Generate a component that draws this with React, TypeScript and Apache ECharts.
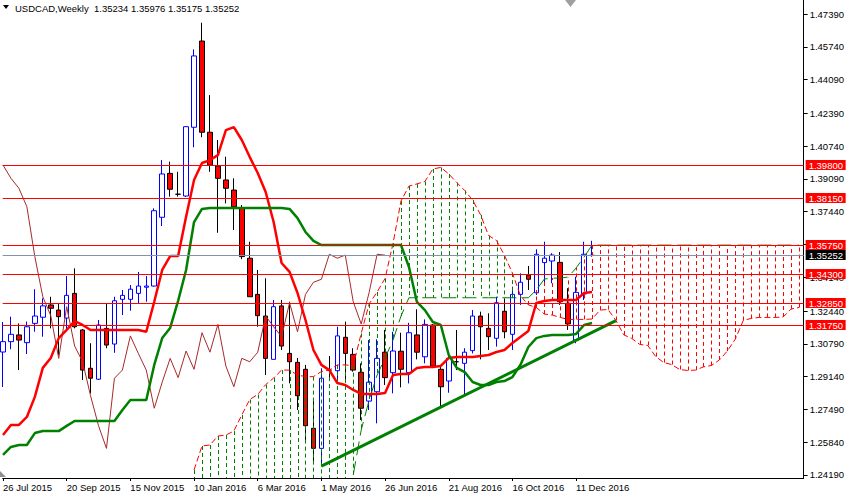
import React, { useEffect, useRef } from 'react';
import * as echarts from 'echarts';

const FONT = "'Liberation Sans', Arial, sans-serif";
const RED = '#FF0000';
const GREEN = '#008000';
const BLUE = '#0000FF';

const titleText = 'USDCAD,Weekly  1.35234 1.35976 1.35175 1.35252';

// weekly candles, index 0 = week of 26 Jul 2015
const opens = [1.3038,1.3090,1.3124,1.3085,1.3182,1.3213,1.3275,1.3249,1.3209,1.3333,
 1.3149,1.2956,1.2901,1.3157,1.3078,1.3303,1.3303,1.3333,1.3364,1.3370,
 1.3716,1.3937,1.3832,1.3823,1.4169,1.4603,1.4144,1.3974,1.3904,1.3853,
 1.3761,1.3510,1.3328,1.3219,1.3001,1.3270,1.3031,1.2986,1.2951,1.2654,
 1.2553,1.2947,1.2944,1.3112,1.3026,1.2936,1.2791,1.2838,1.3037,1.2934,
 1.3042,1.2934,1.3124,1.3014,1.3174,1.2951,1.2892,1.2989,1.2981,1.3045,
 1.3219,1.3157,1.3107,1.3243,1.3127,1.3328,1.3424,1.3336,1.3488,1.3496,
 1.3489,1.3283,1.3098,1.3330,1.35234];
const highs = [1.3189,1.3216,1.3182,1.3191,1.3354,1.3308,1.3316,1.3280,1.3420,1.3459,
 1.3154,1.3082,1.3199,1.3283,1.3316,1.3350,1.3375,1.3441,1.3420,1.3761,
 1.4004,1.3996,1.3945,1.4172,1.4561,1.4695,1.4331,1.4105,1.4021,1.3912,
 1.3778,1.3593,1.3451,1.3409,1.3300,1.3300,1.3291,1.3008,1.2973,1.2800,
 1.2956,1.3018,1.3165,1.3191,1.3057,1.2981,1.3098,1.3102,1.3149,1.3140,
 1.3135,1.3185,1.3253,1.3202,1.3179,1.2973,1.3031,1.3149,1.3057,1.3249,
 1.3241,1.3233,1.3316,1.3308,1.3367,1.3434,1.3471,1.3555,1.3593,1.3535,
 1.3541,1.3359,1.3417,1.3593,1.35976];
const lows = [1.2862,1.3052,1.2947,1.3028,1.3140,1.3115,1.3157,1.3023,1.3149,1.3157,
 1.2897,1.2830,1.2897,1.3057,1.3034,1.3224,1.3246,1.3283,1.3291,1.3367,
 1.3672,1.3820,1.3820,1.3818,1.4068,1.4119,1.3945,1.3638,1.3786,1.3652,
 1.3505,1.3316,1.3165,1.2922,1.3001,1.3048,1.2880,1.2746,1.2595,1.2486,
 1.2464,1.2897,1.2897,1.2897,1.2939,1.2696,1.2746,1.2679,1.2872,1.2830,
 1.2860,1.2880,1.3001,1.2981,1.2962,1.2763,1.2833,1.2947,1.2822,1.3031,
 1.3001,1.3048,1.3065,1.3107,1.3048,1.3275,1.3350,1.3325,1.3384,1.3384,
 1.3275,1.3149,1.3082,1.3300,1.35175];
const closes = [1.3090,1.3127,1.3098,1.3165,1.3219,1.3270,1.3258,1.3216,1.3323,1.3165,
 1.2947,1.2906,1.3174,1.3073,1.3296,1.3323,1.3354,1.3370,1.3370,1.3749,
 1.3934,1.3857,1.3832,1.4172,1.4528,1.4144,1.3979,1.3912,1.3862,1.3769,
 1.3518,1.3316,1.3221,1.3006,1.3266,1.3068,1.2989,1.2818,1.2667,1.2553,
 1.2906,1.2947,1.3119,1.3031,1.2947,1.2755,1.2886,1.3006,1.2909,1.3043,
 1.2951,1.3135,1.3037,1.3177,1.2967,1.2863,1.3006,1.2989,1.3037,1.3219,
 1.3165,1.3115,1.3286,1.3140,1.3328,1.3389,1.3404,1.3530,1.3510,1.3526,
 1.3291,1.3179,1.3338,1.3530,1.35252];

// Ichimoku
const tenkan = [1.2620,1.2671,1.2671,1.2711,1.2812,1.2958,1.3008,1.3108,1.3149,1.3194,
 1.3174,1.3149,1.3149,1.3149,1.3149,1.3149,1.3149,1.3149,1.3140,1.3291,
 1.3451,1.3521,1.3521,1.3719,1.3904,1.3989,1.4004,1.4029,1.4155,1.4170,
 1.4105,1.4019,1.3939,1.3843,1.3692,1.3486,1.3441,1.3335,1.3199,1.3048,
 1.2973,1.2947,1.2882,1.2872,1.2847,1.2827,1.2827,1.2827,1.2832,1.2922,
 1.2927,1.2927,1.2958,1.2963,1.2963,1.2968,1.3008,1.3013,1.3013,1.3013,
 1.3018,1.3023,1.3038,1.3048,1.3083,1.3114,1.3144,1.3285,1.3295,1.3300,
 1.3300,1.3300,1.3300,1.3335,1.3340];
const kijun = [1.2520,1.2560,1.2570,1.2570,1.2630,1.2640,1.2640,1.2640,1.2666,1.2691,
 1.2691,1.2691,1.2691,1.2691,1.2691,1.2746,1.2796,1.2796,1.2796,1.2973,
 1.3108,1.3159,1.3295,1.3451,1.3692,1.3758,1.3763,1.3763,1.3763,1.3763,
 1.3763,1.3763,1.3763,1.3763,1.3763,1.3763,1.3758,1.3712,1.3642,1.3597,
 1.3576,1.3576,1.3576,1.3576,1.3576,1.3576,1.3576,1.3576,1.3576,1.3576,
 1.3576,1.3466,1.3290,1.3249,1.3189,1.3174,1.3023,1.2958,1.2937,1.2887,
 1.2872,1.2872,1.2887,1.2892,1.2912,1.2973,1.3063,1.3108,1.3119,1.3124,
 1.3124,1.3124,1.3129,1.3174,1.3184];
const chikouShift = 26;
const spanAStart = 24;
const spanA = [1.2444,1.2565,1.2570,1.2615,1.2620,1.2640,1.2721,1.2799,1.2824,1.2874,1.2907,
 1.2947,1.2947,1.2922,1.2914,1.2914,1.2940,1.2947,1.2973,1.2973,1.2969,
 1.3132,1.3280,1.3340,1.3408,1.3585,1.3798,1.3873,1.3884,1.3896,1.3959,
 1.3967,1.3934,1.3891,1.3851,1.3803,1.3728,1.3624,1.3599,1.3524,1.3435,
 1.3322,1.3275,1.3262,1.3229,1.3224,1.3212,1.3202,1.3202,1.3202,1.3204,
 1.3249,1.3252,1.3197,1.3124,1.3106,1.3076,1.3071,1.3015,1.2985,1.2975,
 1.2950,1.2945,1.2947,1.2963,1.2970,1.2998,1.3043,1.3103,1.3197,1.3207,
 1.3212,1.3212,1.3212,1.3214,1.3254,1.3262];
const spanBStart = 44;
const spanB = [1.2419,1.2645,1.2796,1.2922,1.3008,1.3098,1.3219,
 1.3311,1.3311,1.3311,1.3311,1.3311,1.3311,1.3311,1.3311,1.3311,1.3311,1.3311,1.3311,1.3311,1.3311,1.3311,1.3311,
 1.3350,1.3405,1.3410,1.3410,1.3415,1.3461,1.3516,1.3576,
 1.3576,1.3576,1.3576,1.3576,1.3576,1.3576,1.3576,1.3576,1.3576,1.3576,1.3576,1.3576,1.3576,
 1.3576,1.3576,1.3576,1.3576,1.3576,1.3576,1.3576,1.3576,1.3576,1.3576,1.3576,1.3576,1.3576];

const trendLine = [[40, 1.2464], [77, 1.3196]];
const levels = [1.398, 1.3815, 1.3575, 1.343, 1.3285, 1.3175, 1.35252];
const levelLabels = ['1.39800', '1.38150', '1.35750', '1.34300', '1.32850', '1.31750', '1.35252'];
const levelLineColors = [RED, RED, RED, RED, RED, RED, '#8592A6'];
const levelBoxColors = [RED, RED, RED, RED, RED, RED, '#000000'];

const yTicks = [1.4739, 1.4574, 1.4409, 1.4239, 1.4074, 1.3909, 1.3744, 1.3579, 1.3414, 1.3244, 1.3079, 1.2914, 1.2749, 1.2584, 1.2419];
const yTickLabels = ['1.47390','1.45740','1.44090','1.42390','1.40740','1.39090','1.37440','1.35790','1.34140','1.32440','1.30790','1.29140','1.27490','1.25840','1.24190'];
const dateTickIdx = [0, 8, 16, 24, 32, 40, 48, 56, 64, 72];
const dateLabels = ['26 Jul 2015','20 Sep 2015','15 Nov 2015','10 Jan 2016','6 Mar 2016','1 May 2016','26 Jun 2016','21 Aug 2016','16 Oct 2016','11 Dec 2016'];

export default function App() {
  const ref = useRef<HTMLDivElement>(null);
  useEffect(() => {
    document.body.style.margin = '0';
    const chart = echarts.init(ref.current!, null, { renderer: 'svg' });
    const candleData = opens.map((o, i) => [i, o, closes[i], lows[i], highs[i]]);
    const tenkanData = tenkan.map((v, i) => [i, v]);
    const kijunData = kijun.map((v, i) => [i, v]);
    const chikouData = closes.slice(chikouShift).map((v, k) => [k, v]);
    const spanAData = spanA.map((v, k) => [spanAStart + k, v]);
    const spanBData = spanB.map((v, k) => [spanBStart + k, v]);
    const levelData = levels.map((v, k) => [k, v]);
    const spanBAt = (i: number) => {
      const k = i - spanBStart;
      return k >= 0 && k < spanB.length ? spanB[k] : null;
    };
    const axisText = { fontSize: 9.5, fontFamily: FONT, color: '#000' };
    chart.setOption({
      animation: false,
      backgroundColor: '#fff',
      grid: { left: 0, top: 0, right: 42, bottom: 17 },
      xAxis: {
        type: 'value', min: -0.04, max: 100.585,
        axisLine: { show: true, onZero: false, lineStyle: { color: '#000', width: 1 } },
        axisTick: { show: true, length: 3, customValues: dateTickIdx, lineStyle: { color: '#000' } },
        axisLabel: {
          ...axisText, customValues: dateTickIdx, align: 'left', margin: 4,
          formatter: (v: number) => dateLabels[dateTickIdx.indexOf(Math.round(v))] ?? '',
        },
        splitLine: { show: false },
      },
      yAxis: {
        type: 'value', position: 'right', min: 1.24039, max: 1.48095, scale: true,
        axisLine: { show: true, onZero: false, lineStyle: { color: '#000', width: 1 } },
        axisTick: { show: true, length: 4, customValues: yTicks, lineStyle: { color: '#000' } },
        axisLabel: {
          ...axisText, customValues: yTicks, margin: 6,
          formatter: (v: number) => {
            let best = 0;
            yTicks.forEach((t, k) => { if (Math.abs(t - v) < Math.abs(yTicks[best] - v)) best = k; });
            return yTickLabels[best];
          },
        },
        splitLine: { show: false },
      },
      graphic: [
        { type: 'polygon', shape: { points: [[3, 5], [9, 5], [6, 9]] }, style: { fill: '#000' } },
        { type: 'text', x: 15, y: 8, style: { text: titleText, fontSize: 9.5, fontFamily: FONT, fill: '#000', verticalAlign: 'middle' } },
        { type: 'polygon', shape: { points: [[565, 0], [576, 0], [570.5, 7]] }, style: { fill: '#A0A0A0' } },
        { type: 'polygon', shape: { points: [[0, 471], [0, 477], [6, 477]] }, style: { fill: '#909090' } },
      ],
      series: [
        {
          type: 'candlestick', z: 1, data: candleData, encode: { x: 0, y: [1, 2, 3, 4] },
          barWidth: 5,
          itemStyle: { color: '#FFFFFF', color0: RED, borderColor: BLUE, borderColor0: '#000', borderColorDoji: '#000', borderWidth: 1 },
        },
        {
          type: 'custom', z: 2, data: spanAData, encode: { x: 0, y: 1 },
          renderItem: (params: any, api: any) => {
            const i = api.value(0);
            const a = api.value(1);
            const b = spanBAt(i);
            const cs = params.coordSys;
            const pa = api.coord([i, a]);
            const yb = b == null ? cs.y + cs.height : api.coord([i, b])[1];
            const up = b == null || a >= b;
            const x = Math.round(pa[0]) + 0.5;
            return {
              type: 'line',
              shape: { x1: x, y1: pa[1], x2: x, y2: yb },
              style: { stroke: up ? GREEN : RED, lineWidth: 1, lineDash: [4, 3] },
            };
          },
        },
        {
          type: 'line', z: 3, data: spanAData, showSymbol: false, symbol: 'none',
          lineStyle: { color: RED, width: 1, type: [6, 3] },
        },
        {
          type: 'line', z: 3, data: spanBData, showSymbol: false, symbol: 'none',
          lineStyle: { color: GREEN, width: 1, type: [14, 6] },
        },
        {
          type: 'line', z: 3, data: chikouData, showSymbol: false, symbol: 'none',
          lineStyle: { color: '#A52A2A', width: 1 },
        },
        {
          type: 'line', z: 4, data: tenkanData, showSymbol: false, symbol: 'none',
          lineStyle: { color: RED, width: 2.5 },
        },
        {
          type: 'line', z: 4, data: kijunData, showSymbol: false, symbol: 'none',
          lineStyle: { color: GREEN, width: 2.5 },
        },
        {
          type: 'line', z: 5, data: trendLine, showSymbol: false, symbol: 'none',
          lineStyle: { color: GREEN, width: 3 },
        },
        {
          type: 'custom', z: 6, data: levelData, encode: { x: 0, y: 1 }, clip: false,
          renderItem: (params: any, api: any) => {
            const k = params.dataIndex;
            const cs = params.coordSys;
            const y = Math.round(api.coord([0, api.value(1)])[1]) + 0.5;
            const right = cs.x + cs.width;
            return {
              type: 'group',
              children: [
                { type: 'line', shape: { x1: cs.x, y1: y, x2: right, y2: y }, style: { stroke: levelLineColors[k], lineWidth: 1 } },
                { type: 'rect', shape: { x: right + 2, y: y - 5.5, width: 40, height: 10 }, style: { fill: levelBoxColors[k] } },
                { type: 'text', x: right + 5, y: y, style: { text: levelLabels[k], fill: '#FFFFFF', fontSize: 9.5, fontFamily: FONT, verticalAlign: 'middle', align: 'left' } },
              ],
            };
          },
        },
      ],
    });
    return () => chart.dispose();
  }, []);
  return <div ref={ref} style={{ width: 847, height: 495 }} />;
}
